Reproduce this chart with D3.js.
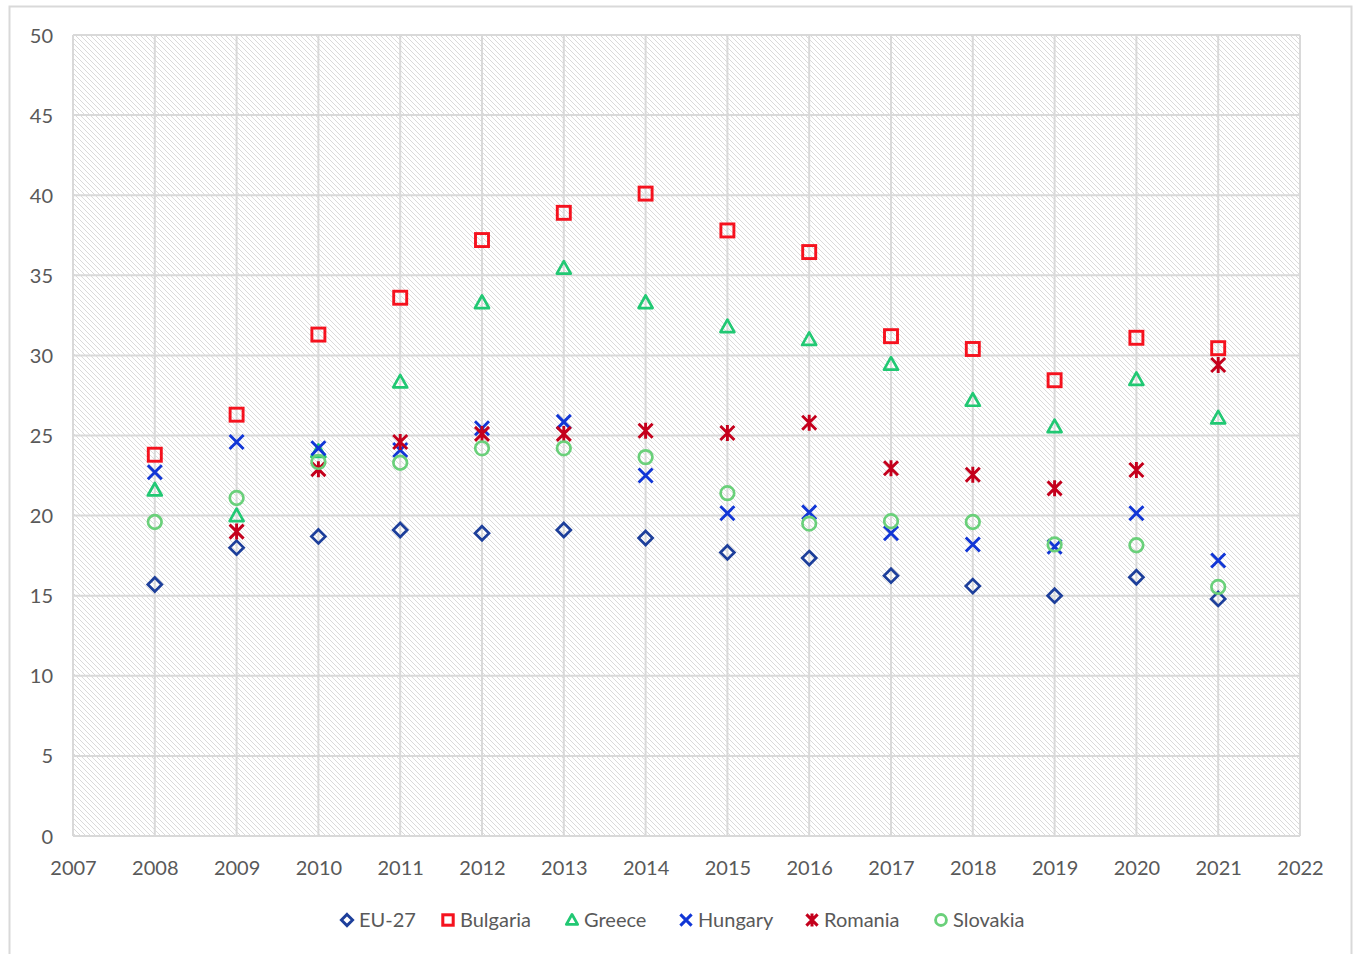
<!DOCTYPE html>
<html>
<head>
<meta charset="utf-8">
<script src="https://cdn.jsdelivr.net/npm/d3@7"></script>
<style>
  body { margin: 0; background: #fff; }
  svg text { font-family: Lato, "Open Sans", sans-serif; fill: #595959; }
</style>
</head>
<body>
<div id="chart"></div>
<script>
"use strict";

// years along the x axis
var years = [2008, 2009, 2010, 2011, 2012, 2013, 2014, 2015, 2016, 2017, 2018, 2019, 2020, 2021];

// values per series (null = no point)
var eu27     = [15.7, 18.0, 18.7, 19.1, 18.9, 19.1, 18.6, 17.7, 17.35, 16.25, 15.6, 15.0, 16.15, 14.8];
var bulgaria = [23.8, 26.3, 31.3, 33.6, 37.2, 38.9, 40.1, 37.8, 36.45, 31.2, 30.4, 28.45, 31.1, 30.45];
var greece   = [21.6, 20.0, 24.0, 28.35, 33.3, 35.45, 33.3, 31.8, 31.0, 29.45, 27.2, 25.55, 28.5, 26.1];
var hungary  = [22.7, 24.6, 24.2, 24.1, 25.45, 25.85, 22.5, 20.15, 20.2, 18.9, 18.2, 18.05, 20.15, 17.2];
var romania  = [null, 19.0, 22.9, 24.6, 25.1, 25.1, 25.3, 25.15, 25.8, 22.95, 22.55, 21.7, 22.85, 29.4];
var slovakia = [19.6, 21.1, 23.35, 23.3, 24.2, 24.2, 23.65, 21.4, 19.5, 19.65, 19.6, 18.2, 18.15, 15.55];

var seriesNames = ["EU-27", "Bulgaria", "Greece", "Hungary", "Romania", "Slovakia"];
var xTicks = d3.range(2007, 2023);
var yTicks = d3.range(0, 51, 5);

var series = [
    {name: "EU-27",    values: eu27,     color: "#1d3f9b", shape: "diamond"},
    {name: "Bulgaria", values: bulgaria, color: "#f5121e", shape: "square"},
    {name: "Greece",   values: greece,   color: "#21c873", shape: "triangle"},
    {name: "Hungary",  values: hungary,  color: "#1136d6", shape: "cross"},
    {name: "Romania",  values: romania,  color: "#c4001c", shape: "star"},
    {name: "Slovakia", values: slovakia, color: "#6ad07a", shape: "circle"}
];

var W = 1354, H = 954;
var margin = {top: 35, right: 54, bottom: 118, left: 73};

var svg = d3.select("#chart").append("svg")
    .attr("width", W).attr("height", H);

// hatch fill for the plot area
var defs = svg.append("defs");
var pat = defs.append("pattern")
    .attr("id", "hatch")
    .attr("patternUnits", "userSpaceOnUse")
    .attr("width", 5).attr("height", 5);
pat.append("rect").attr("width", 5).attr("height", 5).attr("fill", "#fff");
pat.append("path")
    .attr("d", "M-1,-1 L6,6 M-1,4 L1,6 M4,-1 L6,1")
    .attr("stroke", "#dadada").attr("stroke-width", 1);

// outer chart border
svg.append("rect")
    .attr("x", 9.5).attr("y", 6.5)
    .attr("width", 1342).attr("height", 960)
    .attr("fill", "none").attr("stroke", "#d9d9d9").attr("stroke-width", 2);

var x = d3.scaleLinear().domain([2007, 2022]).range([margin.left, W - margin.right]);
var y = d3.scaleLinear().domain([0, 50]).range([H - margin.bottom, margin.top]);

svg.append("rect")
    .attr("x", x(2007)).attr("y", y(50))
    .attr("width", x(2022) - x(2007)).attr("height", y(0) - y(50))
    .attr("fill", "url(#hatch)");

// grid lines
var grid = svg.append("g").attr("stroke", "#d9d9d9").attr("stroke-width", 2);
grid.selectAll("line.h").data(yTicks).join("line")
    .attr("class", "h")
    .attr("x1", x(2007)).attr("x2", x(2022))
    .attr("y1", function (d) { return y(d); }).attr("y2", function (d) { return y(d); });
grid.selectAll("line.v").data(xTicks).join("line")
    .attr("class", "v")
    .attr("y1", y(0)).attr("y2", y(50))
    .attr("x1", function (d) { return x(d); }).attr("x2", function (d) { return x(d); });

// axes (labels only)
var yAxis = svg.append("g")
    .attr("transform", "translate(" + (x(2007) - 20) + ",0)")
    .call(d3.axisLeft(y).tickValues(yTicks).tickSize(0).tickPadding(0));
yAxis.select(".domain").remove();
yAxis.selectAll("text").style("font-size", "20px").attr("dy", "0.35em");

var xAxis = svg.append("g")
    .attr("transform", "translate(0," + (y(0) + 25) + ")")
    .call(d3.axisBottom(x).tickValues(xTicks).tickFormat(d3.format("d")).tickSize(0).tickPadding(0));
xAxis.select(".domain").remove();
xAxis.selectAll("text").style("font-size", "20px");

// marker drawing
function drawMarker(g, shape, color, sw) {
    if (shape === "diamond") {
        g.append("path").attr("d", "M0,-7 L7,0 L0,7 L-7,0 Z")
            .attr("fill", "none").attr("stroke", color).attr("stroke-width", sw);
    } else if (shape === "square") {
        g.append("rect").attr("x", -6.5).attr("y", -6.5).attr("width", 13).attr("height", 13)
            .attr("fill", "none").attr("stroke", color).attr("stroke-width", sw + 0.2);
    } else if (shape === "triangle") {
        g.append("path").attr("d", "M0,-7 L7,5.5 L-7,5.5 Z")
            .attr("fill", "none").attr("stroke", color).attr("stroke-width", sw)
            .attr("stroke-linejoin", "round");
    } else if (shape === "cross") {
        g.append("path").attr("d", "M-7,-7 L7,7 M-7,7 L7,-7")
            .attr("fill", "none").attr("stroke", color).attr("stroke-width", sw + 0.2);
    } else if (shape === "star") {
        g.append("path").attr("d", "M-7,-7 L7,7 M-7,7 L7,-7 M0,-8 L0,8")
            .attr("fill", "none").attr("stroke", color).attr("stroke-width", sw + 0.2);
    } else if (shape === "circle") {
        g.append("circle").attr("r", 6.8)
            .attr("fill", "none").attr("stroke", color).attr("stroke-width", sw);
    }
}

series.forEach(function (s) {
    var pts = years.map(function (yr, i) { return {year: yr, v: s.values[i]}; })
        .filter(function (p) { return p.v != null; });
    var gs = svg.append("g").attr("class", "series");
    gs.selectAll("g").data(pts).join("g")
        .attr("transform", function (p) { return "translate(" + x(p.year) + "," + y(p.v) + ")"; })
        .each(function () { drawMarker(d3.select(this), s.shape, s.color, 2.7); });
});

// legend
var legendX = [347, 448, 572, 686, 812, 941];
var legend = svg.append("g").attr("transform", "translate(0,920)");
series.forEach(function (s, i) {
    var item = legend.append("g").attr("transform", "translate(" + legendX[i] + ",0)");
    var m = item.append("g").attr("transform", "scale(0.8)");
    drawMarker(m, s.shape, s.color, 3.6);
    item.append("text").attr("x", 12).attr("dy", "0.35em")
        .style("font-size", "20px").text(seriesNames[i]);
});
</script>
</body>
</html>
